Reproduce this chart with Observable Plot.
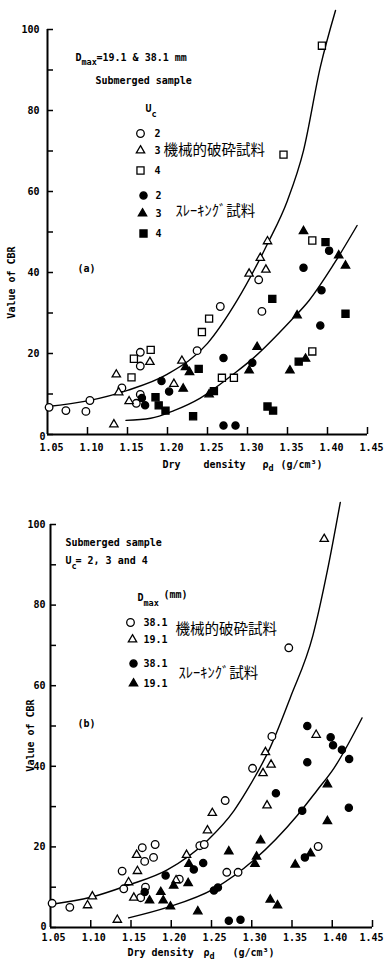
<!DOCTYPE html>
<html><head><meta charset="utf-8">
<script src="https://cdn.jsdelivr.net/npm/d3@7"></script>
<script src="https://cdn.jsdelivr.net/npm/@observablehq/plot@0.6"></script>
<style>
html,body{margin:0;padding:0;background:#fff;}
#chart{width:385px;}
#chart svg{display:block;overflow:visible;background:#fff;}
</style></head><body><div id="chart"></div>
<script>
// ---------- Data ----------
// Panel (a): Dmax = 19.1 & 38.1 mm, grouped by Uc
const aMachineU2 = [[1.052,6.7],[1.073,5.9],[1.098,5.7],[1.103,8.4],[1.143,11.5],[1.166,20.3],[1.166,16.9],[1.166,9.9],[1.161,7.7],[1.237,20.7],[1.266,31.6],[1.318,30.4],[1.314,38.2]];
const aMachineU3 = [[1.136,14.8],[1.139,10.4],[1.152,8.2],[1.133,2.5],[1.178,17.9],[1.208,12.5],[1.218,18.2],[1.302,39.7],[1.316,43.6],[1.325,47.7],[1.323,40.7]];
const aMachineU4 = [[1.393,96.0],[1.345,69.1],[1.381,47.9],[1.158,18.7],[1.179,20.9],[1.155,14.1],[1.243,25.3],[1.252,28.6],[1.268,14.0],[1.283,14.0],[1.381,20.5]];
const aSlakingU2 = [[1.168,9.0],[1.172,7.2],[1.1925,13.2],[1.202,10.6],[1.270,18.9],[1.270,2.2],[1.285,2.2],[1.306,17.7],[1.391,26.9],[1.370,41.2],[1.402,45.4],[1.3925,35.6]];
const aSlakingU3 = [[1.2225,16.6],[1.2275,15.4],[1.2196,11.3],[1.252,9.9],[1.302,15.8],[1.312,21.6],[1.362,29.4],[1.353,15.8],[1.3725,18.7],[1.370,50.2],[1.414,44.2],[1.4225,41.7]];
const aSlakingU4 = [[1.185,9.2],[1.189,7.2],[1.1975,5.9],[1.232,4.5],[1.239,16.2],[1.258,10.7],[1.325,6.9],[1.332,5.9],[1.364,18.0],[1.4225,29.8],[1.331,33.5],[1.3975,47.5]];
const aCurveMachine = [[1.05,6.9],[1.10,8.3],[1.15,10.9],[1.20,14.9],[1.25,22.5],[1.287,33.1],[1.325,47.1],[1.35,57.8],[1.37,70.1],[1.391,90.7],[1.41,104.7]];
const aCurveSlaking = [[1.148,3.5],[1.179,4.0],[1.208,5.9],[1.241,9.0],[1.283,15.0],[1.304,18.3],[1.354,28.1],[1.377,33.1],[1.408,42.1],[1.437,51.6]];

// Panel (b): Uc = 2, 3 and 4, grouped by Dmax
const bMachine381 = [[1.052,6.0],[1.074,5.0],[1.139,14.0],[1.141,9.6],[1.164,19.8],[1.167,16.4],[1.178,17.4],[1.180,20.6],[1.162,7.4],[1.168,10.0],[1.210,12.0],[1.2355,20.3],[1.241,20.6],[1.267,31.5],[1.269,13.7],[1.283,13.7],[1.3825,20.1],[1.346,69.4],[1.325,47.4],[1.301,39.5]];
const bMachine191 = [[1.390,96.4],[1.380,47.8],[1.317,43.5],[1.324,40.4],[1.314,38.3],[1.319,30.3],[1.251,28.4],[1.245,24.1],[1.219,18.0],[1.157,18.0],[1.158,14.0],[1.147,11.2],[1.1535,7.4],[1.102,7.7],[1.096,5.5],[1.133,1.9],[1.206,11.7]];
const bSlaking381 = [[1.369,50.0],[1.398,47.2],[1.401,45.2],[1.412,44.1],[1.421,41.8],[1.369,41.0],[1.330,33.3],[1.3627,29.0],[1.4206,29.7],[1.366,17.4],[1.2715,1.7],[1.286,1.9],[1.253,9.2],[1.258,9.9],[1.2397,16.0],[1.228,14.4],[1.193,12.9],[1.167,8.8]];
const bSlaking191 = [[1.394,35.5],[1.394,26.4],[1.354,15.6],[1.373,18.4],[1.323,6.9],[1.332,5.5],[1.311,21.6],[1.306,17.6],[1.304,15.8],[1.2715,18.9],[1.233,4.0],[1.199,5.2],[1.190,6.7],[1.187,8.8],[1.173,6.7],[1.221,11.0],[1.222,15.8],[1.203,10.4]];
const bCurveMachine = [[1.05,5.7],[1.10,7.5],[1.145,10.4],[1.195,14.3],[1.245,21.6],[1.278,29.0],[1.294,34.0],[1.323,44.7],[1.348,57.1],[1.376,72.5],[1.394,88.6],[1.41,105.5]];
const bCurveSlaking = [[1.147,2.4],[1.195,5.0],[1.253,9.6],[1.303,16.8],[1.3565,27.8],[1.381,34.0],[1.402,39.5],[1.437,52.0]];

// Axes
const xDomain = [1.05, 1.45];
const yDomain = [0, 100];
const xTicks = [1.05,1.10,1.15,1.20,1.25,1.30,1.35,1.40,1.45];
const yTicks = [0,10,20,30,40,50,60,70,80,90,100];
const yTickLabels = [0,20,40,60,80,100];

// Text
const yTitle = "Value of CBR";
const machineLabel = "機械的破砕試料";
const slakingLabel = "ｽﾚｰｷﾝｸﾞ試料";

// ---------- Styles ----------
const LATIN = "'DejaVu Sans Mono', monospace";
const CJK = "'Noto Sans CJK JP', sans-serif";
const W = 385, H = 481;
const R_CIRCLE = 3.8, R_DISC = 3.6, R_TRI = 3.1, R_SQ = 4;

function makePanel(cfg) {
  const {top, mL, mR, mT, mB} = cfg;
  const plotW = W - mL - mR, plotH = H - mT - mB;
  const note = (txt, px, py, o = {}) => Plot.text([txt], {
    frameAnchor: "top-left", dx: px - mL, dy: py - top - mT, text: d => d,
    textAnchor: "start", lineAnchor: "middle",
    fontFamily: LATIN, fontSize: 10, fontWeight: "bold", fill: "black", ...o
  });
  const sym = (symbol, filled, px, py, r) => Plot.dot([0], {
    frameAnchor: "top-left", dx: px - mL, dy: py - top - mT, symbol, r,
    fill: filled ? "black" : "white", stroke: "black", strokeWidth: 1.3
  });
  const pts = (data, symbol, filled, r) => Plot.dot(data, {
    x: d => d[0], y: d => d[1], symbol, r,
    fill: filled ? "black" : "white", stroke: "black", strokeWidth: 1.3
  });
  const lastX = xTicks[xTicks.length - 1];
  const marks = [
    // axes
    Plot.ruleX([xDomain[0]], {y1: yDomain[0], y2: yDomain[1], strokeWidth: 2}),
    Plot.ruleY([yDomain[0]], {strokeWidth: 2}),
    Plot.ruleY(yTicks, {y: d => d, insetRight: plotW - 6, strokeWidth: 1.5}),
    Plot.ruleX(xTicks.slice(1), {x: d => d, insetTop: plotH - 7, strokeWidth: 1.5}),
    Plot.text(yTickLabels.filter(d => d > 0), {x: xDomain[0], y: d => d, text: d => String(d), textAnchor: "end", dx: cfg.yLabDx, fontFamily: LATIN, fontSize: 10, fontWeight: "bold"}),
    Plot.text([yTickLabels[0]], {x: xDomain[0], y: d => d, text: d => String(d), textAnchor: "end", dx: cfg.zeroDx, dy: cfg.zeroDy, fontFamily: LATIN, fontSize: 10, fontWeight: "bold"}),
    Plot.text(xTicks.filter(d => d !== lastX), {x: d => d, y: yDomain[0], text: d => d.toFixed(2), dx: cfg.xLabDx, dy: cfg.xLabDy, fontFamily: LATIN, fontSize: 10, fontWeight: "bold"}),
    Plot.text([lastX], {x: d => d, y: yDomain[0], text: d => d.toFixed(2), dx: cfg.lastLabDx, dy: cfg.xLabDy, fontFamily: LATIN, fontSize: 10, fontWeight: "bold"}),
    // curves
    ...cfg.curves.map(c => Plot.line(c, {x: d => d[0], y: d => d[1], curve: "monotone-x", strokeWidth: 1.4, stroke: "black"})),
    // points
    ...cfg.series.map(s => pts(s.data, s.symbol, s.filled, s.r)),
    // legend symbols
    ...cfg.legendSymbols.map(s => sym(s.symbol, s.filled, s.px, s.py, s.r)),
    // notes
    ...cfg.notes.map(n => note(n[0], n[1], n[2], n[3] || {}))
  ];
  return Plot.plot({
    width: W, height: H,
    marginLeft: mL, marginRight: mR, marginTop: mT, marginBottom: mB,
    x: {domain: xDomain, axis: null},
    y: {domain: yDomain, axis: null},
    style: {background: "white", overflow: "visible"},
    marks
  });
}

const SUB = {fontSize: 8.5};
const JP = {fontFamily: CJK, fontSize: 14.5, fontWeight: "normal"};
const ROT = {rotate: -90, textAnchor: "middle"};

const panelA = makePanel({
  top: 0, mL: 47, mR: 18, mT: 29, mB: 47,
  yLabDx: -8, zeroDx: -2, zeroDy: 2, xLabDx: 4, lastLabDx: 4, xLabDy: 13,
  curves: [aCurveMachine, aCurveSlaking],
  series: [
    {data: aMachineU2, symbol: "circle", filled: false, r: R_CIRCLE},
    {data: aMachineU3, symbol: "triangle", filled: false, r: R_TRI},
    {data: aMachineU4, symbol: "square", filled: false, r: R_SQ},
    {data: aSlakingU2, symbol: "circle", filled: true, r: R_DISC},
    {data: aSlakingU3, symbol: "triangle", filled: true, r: R_TRI},
    {data: aSlakingU4, symbol: "square", filled: true, r: R_SQ}
  ],
  legendSymbols: [
    {symbol: "circle", filled: false, px: 140, py: 133, r: R_CIRCLE},
    {symbol: "triangle", filled: false, px: 140, py: 150, r: R_TRI},
    {symbol: "square", filled: false, px: 140, py: 170, r: R_SQ},
    {symbol: "circle", filled: true, px: 143, py: 195, r: R_DISC},
    {symbol: "triangle", filled: true, px: 142, py: 213, r: R_TRI},
    {symbol: "square", filled: true, px: 143, py: 233, r: R_SQ}
  ],
  notes: [
    ["D", 75, 57], ["max", 81, 62, SUB], ["=19.1 & 38.1 mm", 96, 57],
    ["Submerged sample", 95, 80],
    ["U", 145, 108], ["c", 151, 114, SUB],
    ["2", 154, 133], ["3", 154, 150], ["4", 154, 170],
    ["2", 155, 195], ["3", 155, 213], ["4", 155, 233],
    [machineLabel, 163, 150, JP], [slakingLabel, 175, 211, JP],
    ["(a)", 77, 268],
    [yTitle, 11, 282, ROT],
    ["Dry", 162, 464], ["density", 203, 464], ["ρ", 262, 464], ["d", 268, 468, SUB], ["(g/cm³)", 280, 464]
  ]
});

const panelB = makePanel({
  top: 481, mL: 50, mR: 13, mT: 43, mB: 35,
  yLabDx: -5, zeroDx: -4, zeroDy: -1, xLabDx: 3, lastLabDx: -1, xLabDy: 10,
  curves: [bCurveMachine, bCurveSlaking],
  series: [
    {data: bMachine381, symbol: "circle", filled: false, r: R_CIRCLE},
    {data: bMachine191, symbol: "triangle", filled: false, r: R_TRI},
    {data: bSlaking381, symbol: "circle", filled: true, r: R_DISC},
    {data: bSlaking191, symbol: "triangle", filled: true, r: R_TRI}
  ],
  legendSymbols: [
    {symbol: "circle", filled: false, px: 130, py: 622, r: R_CIRCLE},
    {symbol: "triangle", filled: false, px: 132, py: 639, r: R_TRI},
    {symbol: "circle", filled: true, px: 133, py: 663, r: R_DISC},
    {symbol: "triangle", filled: true, px: 133, py: 683, r: R_TRI}
  ],
  notes: [
    ["Submerged sample", 65, 542],
    ["U", 65, 560], ["c", 71, 566, SUB], ["= 2, 3 and 4", 75, 560],
    ["D", 137, 597], ["max", 143, 603, SUB], ["(mm)", 163, 594],
    ["38.1", 143, 622], ["19.1", 143, 639], ["38.1", 143, 663], ["19.1", 143, 683],
    [machineLabel, 175, 629, JP], [slakingLabel, 178, 673, JP],
    ["(b)", 77, 723],
    [yTitle, 30, 735, ROT],
    ["Dry density", 127, 952], ["ρ", 203, 952], ["d", 209, 956, SUB], ["(g/cm³)", 232, 952]
  ]
});

const chart = document.getElementById("chart");
chart.appendChild(panelA);
chart.appendChild(panelB);
</script>
</body></html>
